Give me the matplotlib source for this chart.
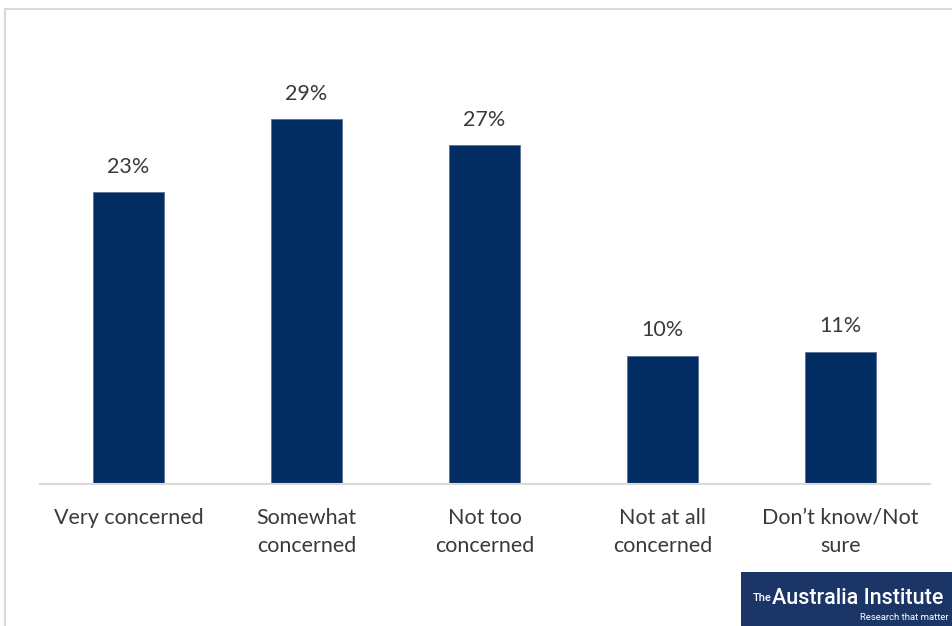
import matplotlib
matplotlib.use("Agg")
import matplotlib.pyplot as plt
from matplotlib.patches import Rectangle
from matplotlib.lines import Line2D

# ── Datos ────────────────────────────────────────────────────
categorias = ["Very concerned", "Somewhat\nconcerned", "Not too\nconcerned",
              "Not at all\nconcerned", "Don’t know/Not\nsure"]
valores = [23.2, 29.0, 26.9, 10.2, 10.5]
etiquetas = ["23%", "29%", "27%", "10%", "11%"]

AZUL = "#022d63"
GRIS_TEXTO = "#3a3a3a"

plt.rcParams["font.family"] = ["Lato", "DejaVu Sans"]

W, H = 953, 626
fig = plt.figure(figsize=(W / 100, H / 100), dpi=100)
fig.patch.set_facecolor("white")

# eje: de x=39.5 a 929.5 px, base en y=484 px
izq, der = 39.5 / W, 929.5 / W
base = (H - 484) / H
alto = 403 / H
ax = fig.add_axes([izq, base, der - izq, alto])

x = range(len(categorias))
ax.bar(x, valores, width=0.4, color=AZUL, edgecolor="#5a6f96", linewidth=0.6)
ax.set_xlim(-0.5, len(categorias) - 0.5)
ax.set_ylim(0, 32)

for xi, v, t in zip(x, valores, etiquetas):
    ax.annotate(t, (xi, v), xytext=(0, 11), textcoords="offset points",
                ha="center", va="bottom", fontsize=15.5, color=GRIS_TEXTO)

ax.set_xticks(list(x))
ax.set_xticklabels(categorias, fontsize=15.5, color=GRIS_TEXTO, linespacing=1.55)
ax.tick_params(axis="x", length=0, pad=17)
ax.set_yticks([])
for lado in ["top", "right", "left"]:
    ax.spines[lado].set_visible(False)
ax.spines["bottom"].set_color("#d9d9d9")
ax.spines["bottom"].set_linewidth(1.5)
ax.patch.set_alpha(0)

# marco exterior gris (solo arriba e izquierda visibles)
fig.add_artist(Line2D([5 / W, 1.0], [1 - 9 / H, 1 - 9 / H],
                      transform=fig.transFigure, color="#d9d9d9", lw=1.5))
fig.add_artist(Line2D([5 / W, 5 / W], [0, 1 - 9 / H],
                      transform=fig.transFigure, color="#d9d9d9", lw=1.5))

# logo
fig.add_artist(Rectangle((741 / W, 0), (W - 741) / W, (626 - 572) / H,
                         transform=fig.transFigure, facecolor="#1b3567",
                         edgecolor="none"))
fig.text(753 / W, 1 - 603 / H, "The", color="white", fontsize=8,
         ha="left", va="bottom", family=["Roboto", "DejaVu Sans"],
         fontweight="medium")
fig.text(772 / W, 1 - 598 / H, "Australia Institute", color="white",
         fontsize=15.5, ha="left", va="center", fontweight="medium",
         family=["Roboto", "DejaVu Sans"])
fig.text(949 / W, 1 - 617 / H, "Research that matter", color="white",
         fontsize=6.8, ha="right", va="center",
         family=["Roboto", "DejaVu Sans"])

fig.savefig("out.png", dpi=100, facecolor="white")
